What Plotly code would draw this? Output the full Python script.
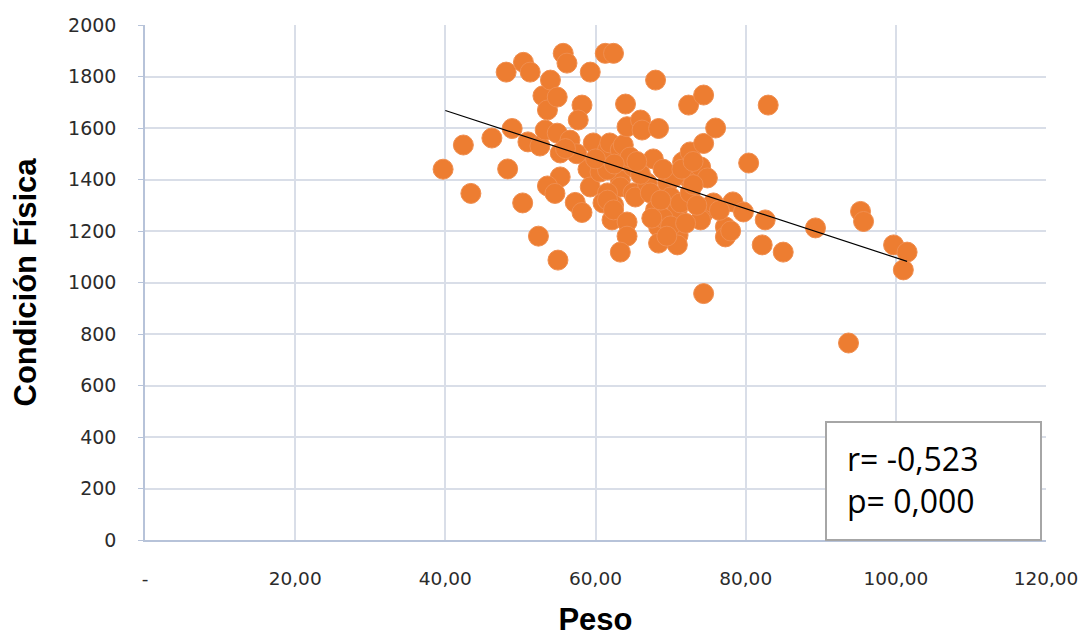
import plotly.graph_objects as go

# Data
peso = [39.7, 42.4, 43.4, 46.2, 48.1, 48.3, 48.9, 50.3, 50.4, 51.3, 51.0, 52.6, 52.4, 53.0, 53.6,
        54.0, 54.9, 53.3, 54.9, 56.6, 55.3, 55.3, 53.6, 54.6, 55.0, 55.7, 56.2, 57.3, 58.2, 58.2,
        57.7, 59.3, 59.0, 59.3, 59.7, 60.6, 61.3, 62.4, 61.6, 61.9, 63.3, 63.7, 64.0, 64.2, 66.0,
        66.2, 63.3, 65.0, 64.6, 61.6, 63.3, 65.0, 61.6, 61.0, 62.4, 61.6, 62.2, 62.4, 64.2, 64.2,
        63.3, 65.3, 66.9, 67.3, 67.7, 68.0, 68.4, 68.0, 68.4, 68.4, 69.6, 70.0, 70.9, 71.0, 70.9,
        71.3, 71.6, 72.2, 72.6, 72.6, 72.4, 74.4, 74.4, 74.0, 74.9, 74.4, 74.0, 75.7, 76.0, 77.3,
        77.3, 78.3, 79.7, 74.4, 80.4, 82.6, 82.2, 83.0, 85.0, 89.3, 95.3, 95.7, 93.7, 99.7, 101.5,
        101.0, 69.0, 70.0, 69.5, 68.7, 70.5, 73.0, 73.5, 69.0, 66.0, 67.5, 72.0, 65.5, 60.0, 57.5,
        56.0, 62.5, 71.5, 73.0, 76.5, 78.0]
condicion = [1440, 1534, 1346, 1561, 1817, 1441, 1598, 1309, 1855, 1817, 1546, 1530, 1180, 1725, 1670,
             1786, 1720, 1592, 1580, 1553, 1503, 1410, 1375, 1346, 1087, 1890, 1852, 1311, 1272, 1689,
             1631, 1817, 1440, 1371, 1542, 1429, 1890, 1890, 1515, 1542, 1515, 1534, 1693, 1605, 1631,
             1592, 1398, 1449, 1487, 1437, 1371, 1348, 1348, 1309, 1301, 1320, 1243, 1282, 1235, 1180,
             1118, 1332, 1386, 1348, 1480, 1786, 1598, 1282, 1216, 1153, 1386, 1332, 1282, 1184, 1146,
             1309, 1468, 1410, 1348, 1507, 1689, 1728, 1540, 1449, 1406, 1270, 1243, 1309, 1600, 1216,
             1177, 1313, 1274, 957, 1464, 1243, 1146, 1689, 1118, 1212, 1276, 1237, 765, 1146, 1118,
             1049, 1250, 1220, 1180, 1320, 1410, 1380, 1300, 1440, 1420, 1250, 1230, 1470, 1480, 1500,
             1520, 1460, 1440, 1470, 1280, 1200]

# Linear trendline as drawn in the reference (endpoints)
trend_peso = [40.0, 101.5]
trend_condicion = [1668, 1082]

x_tickvals = [0, 20, 40, 60, 80, 100, 120]
x_ticktext = ["-", "20,00", "40,00", "60,00", "80,00", "100,00", "120,00"]
y_tickvals = [0, 200, 400, 600, 800, 1000, 1200, 1400, 1600, 1800, 2000]
stats_text = ["r= -0,523", "p= 0,000"]

orange = "#ED7D31"
grid = "#D9DEE8"
axis_c = "#B7C3D9"
tick_color = "#2B2B2B"
title_font = "Liberation Sans, Arial, sans-serif"
tick_font = "DejaVu Sans, Verdana, sans-serif"

fig = go.Figure()
fig.add_trace(go.Scatter(x=peso, y=condicion, mode="markers",
                         marker=dict(size=20, color=orange, line=dict(width=1, color="#F08E4F")),
                         showlegend=False, hoverinfo="x+y"))
fig.add_trace(go.Scatter(x=trend_peso, y=trend_condicion, mode="lines",
                         line=dict(color="#000000", width=1.2),
                         showlegend=False, hoverinfo="skip"))

fig.update_layout(
    width=1083, height=637,
    margin=dict(l=145, r=37, t=25, b=97),
    paper_bgcolor="white", plot_bgcolor="white",
    font=dict(family=tick_font, size=18, color=tick_color),
    xaxis=dict(range=[0, 120], tickvals=x_tickvals, ticktext=x_ticktext,
               showgrid=True, gridcolor=grid, gridwidth=2, zeroline=False,
               showline=True, linecolor=axis_c, linewidth=1.5, automargin=False,
               ticks="", ticklabelstandoff=21,
               tickfont=dict(family=tick_font, size=18.5, color=tick_color),
               title=dict(text="<b>Peso</b>", font=dict(size=31, color="#000000", family=title_font), standoff=23)),
    yaxis=dict(range=[0, 2000], tickvals=y_tickvals,
               showgrid=True, gridcolor=grid, gridwidth=2, zeroline=False,
               showline=True, linecolor=axis_c, linewidth=1.5, automargin=False,
               ticks="outside", ticklen=5, tickcolor=axis_c, ticklabelstandoff=18,
               tickfont=dict(family=tick_font, size=19, color=tick_color),
               title=dict(text="<b>Condición Física</b>", font=dict(size=31, color="#000000", family=title_font), standoff=22)),
)

# statistics box
fig.add_shape(type="rect", xref="paper", yref="paper",
              x0=(826 - 145) / 901, x1=(1041 - 145) / 901, y0=0.0, y1=(540 - 422) / 515,
              line=dict(color="#A6A6A6", width=2), fillcolor="white", layer="above")
fig.add_annotation(xref="paper", yref="paper", x=(845 - 145) / 901, y=(540 - 479) / 515,
                   xanchor="left", yanchor="middle", align="left", showarrow=False,
                   text="<br>".join(stats_text),
                   font=dict(size=32, color="#000000", family="Open Sans, Liberation Sans, sans-serif"))

fig.write_html("out.html")
